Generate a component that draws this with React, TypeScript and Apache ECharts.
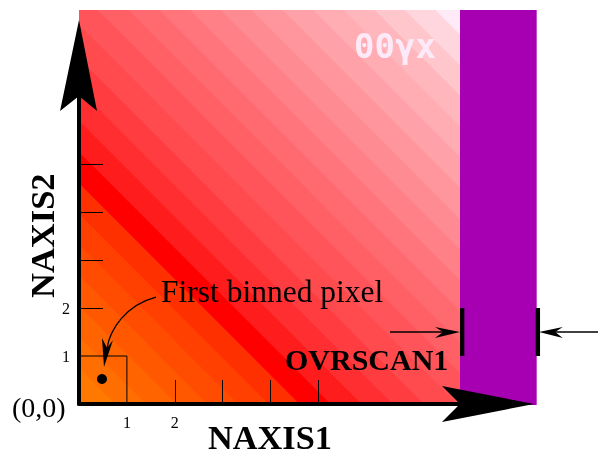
import React, { useEffect, useRef } from "react";
import * as echarts from "echarts";

// Scene extents, in pixel units of the binned image
const imageWidth = 7.954;
const imageHeight = 8.208;
const overscanEnd = 9.555;
const xMax = 9;
const yMax = 7.5;

// Diagonal colour bands: lower edge of each band (x + y) and its fill
const bandEdges = [-1, 0.12, 0.76, 1.4, 2.04, 2.68, 3.32, 3.96, 4.6, 5.25, 5.9, 6.55, 7.2, 7.9, 8.6, 9.24, 9.89, 10.53, 11.17, 11.81, 12.46, 13.1, 13.74, 14.38, 15.01, 15.65];
const bandColors = ["#ff7c00", "#ff7800", "#ff6e00", "#ff6400", "#ff5800", "#ff4c00", "#ff4000", "#ff3000", "#ff0000", "#ff1c1c", "#ff2e30", "#ff3c40", "#ff4a4e", "#ff555a", "#ff6066", "#ff6a70", "#ff757b", "#ff8087", "#ff8b92", "#ff969d", "#ffa1a8", "#ffacb3", "#ffb7bd", "#ffc6cc", "#ffd6de", "#ffebf7"];

const tickValues = [2, 3, 4, 5];
const labelValues = [1, 2];
const firstPixel = [[0.48, 0.52]];

const yArrowHead = [[0, 8], [-0.396, 6.104], [0, 6.417], [0.376, 6.104]];
const xArrowHead = [[9.5, 0], [7.578, 0.375], [7.954, 0], [7.578, -0.375]];
const pixelBox = [[0, 1], [1, 1], [1, 0]];
const curveArrowLine = [[1.608, 2.229], [0.96, 2.06], [0.647, 1.54], [0.585, 1.167]];
const curveArrowHead = [[0.522, 0.771], [0.48, 1.375], [0.585, 1.167], [0.71, 1.333]];
const overscanBars = [[[8, 1], [8, 2]], [[9.58, 1], [9.58, 2]]];
const overscanLines = [[[6.493, 1.5], [7.8, 1.5]], [[9.8, 1.5], [10.9, 1.5]]];
const overscanHeads = [
  [[7.954, 1.5], [7.432, 1.604], [7.6, 1.5], [7.432, 1.375]],
  [[9.603, 1.5], [10.1, 1.604], [9.94, 1.5], [10.1, 1.375]],
];

// Region of the image at or above a band's lower edge
const bandRegion = (edge: number): number[][] => {
  const corners = [[0, 0], [imageWidth, 0], [imageWidth, imageHeight], [0, imageHeight]];
  const f = (p: number[]) => p[0] + p[1] - edge;
  const out: number[][] = [];
  corners.forEach((p, i) => {
    const q = corners[(i + 1) % 4];
    const a = f(p);
    const b = f(q);
    if (a >= 0) out.push(p);
    if (a >= 0 !== b >= 0) {
      const t = a / (a - b);
      out.push([p[0] + (q[0] - p[0]) * t, p[1] + (q[1] - p[1]) * t]);
    }
  });
  return out;
};

const serif = "'Liberation Serif', serif";

export default function App() {
  const ref = useRef<HTMLDivElement>(null);
  useEffect(() => {
    const chart = echarts.init(ref.current!, null, { renderer: "svg" });
    const poly = (api: any, pts: number[][]) => pts.map((p) => api.coord(p));
    const overlay = (_: any, api: any) => {
      const ink = { fill: "#000", stroke: "none" };
      const c = curveArrowLine.map((p) => api.coord(p));
      const children: any[] = [
        { type: "polygon", shape: { points: poly(api, yArrowHead) }, style: ink },
        { type: "polygon", shape: { points: poly(api, xArrowHead) }, style: ink },
        { type: "polyline", shape: { points: poly(api, pixelBox) }, style: { fill: "none", stroke: "#000", lineWidth: 1 } },
        {
          type: "bezierCurve",
          shape: { x1: c[0][0], y1: c[0][1], cpx1: c[1][0], cpy1: c[1][1], cpx2: c[2][0], cpy2: c[2][1], x2: c[3][0], y2: c[3][1] },
          style: { fill: "none", stroke: "#000", lineWidth: 1.3 },
        },
        { type: "polygon", shape: { points: poly(api, curveArrowHead) }, style: ink },
      ];
      overscanBars.forEach((b) => children.push({ type: "polyline", shape: { points: poly(api, b) }, style: { fill: "none", stroke: "#000", lineWidth: 4.3 } }));
      overscanLines.forEach((b) => children.push({ type: "polyline", shape: { points: poly(api, b) }, style: { fill: "none", stroke: "#000", lineWidth: 1.6 } }));
      overscanHeads.forEach((b) => children.push({ type: "polygon", shape: { points: poly(api, b) }, style: ink }));
      return { type: "group", children };
    };
    chart.setOption({
      animation: false,
      grid: { left: 79, top: 44, width: 431.1, height: 360 },
      xAxis: {
        type: "value",
        min: 0,
        max: xMax,
        interval: 1,
        z: 3,
        splitLine: { show: false },
        axisLine: { lineStyle: { color: "#000", width: 4 } },
        axisTick: { customValues: tickValues, inside: true, length: 24, lineStyle: { color: "#000", width: 1 } },
        axisLabel: { customValues: labelValues, color: "#000", fontFamily: serif, fontSize: 16, margin: 10 },
      },
      yAxis: {
        type: "value",
        min: 0,
        max: yMax,
        interval: 1,
        z: 3,
        splitLine: { show: false },
        axisLine: { lineStyle: { color: "#000", width: 4 } },
        axisTick: { customValues: tickValues, inside: true, length: 24, lineStyle: { color: "#000", width: 1 } },
        axisLabel: { customValues: labelValues, color: "#000", fontFamily: serif, fontSize: 16, margin: 9, padding: [0, 0, 12, 0] },
      },
      series: [
        {
          type: "custom",
          z: 1,
          silent: true,
          clip: false,
          data: bandEdges.map((e, i) => [e, i]),
          renderItem: (_: any, api: any) => {
            const i = api.value(1);
            return {
              type: "polygon",
              shape: { points: bandRegion(api.value(0)).map((p) => api.coord(p)) },
              style: { fill: bandColors[i], stroke: "none" },
            };
          },
        },
        {
          type: "custom",
          z: 2,
          silent: true,
          clip: false,
          data: [[imageWidth, overscanEnd]],
          renderItem: (_: any, api: any) => ({
            type: "polygon",
            shape: {
              points: [
                api.coord([api.value(0), -0.02]),
                api.coord([api.value(1), -0.02]),
                api.coord([api.value(1), imageHeight]),
                api.coord([api.value(0), imageHeight]),
              ],
            },
            style: { fill: "#a700b3", stroke: "none" },
          }),
        },
        { type: "custom", z: 4, silent: true, clip: false, data: [[0, 0]], renderItem: overlay },
        { type: "scatter", z: 5, silent: true, data: firstPixel, symbolSize: 10, itemStyle: { color: "#000", opacity: 1 } },
      ],
      graphic: [
        { type: "text", z: 10, x: 354, y: 46, style: { text: "00γx", fill: "#fdeaf8", font: "bold 34px 'DejaVu Sans Mono', monospace", verticalAlign: "middle" } },
        { type: "text", z: 10, x: 161, y: 291, style: { text: "First binned pixel", fill: "#000", font: `31.5px ${serif}`, verticalAlign: "middle" } },
        { type: "text", z: 10, x: 285, y: 359, style: { text: "OVRSCAN1", fill: "#000", font: `bold 30px ${serif}`, verticalAlign: "middle" } },
        { type: "text", z: 10, x: 12, y: 407, style: { text: "(0,0)", fill: "#000", font: `28px ${serif}`, verticalAlign: "middle" } },
        { type: "text", z: 10, x: 208, y: 438, scaleX: 1.04, style: { text: "NAXIS1", fill: "#000", font: `bold 33px ${serif}`, verticalAlign: "middle" } },
        { type: "text", z: 10, x: 42, y: 298, rotation: Math.PI / 2, style: { text: "NAXIS2", fill: "#000", font: `bold 34.5px ${serif}`, verticalAlign: "middle" } },
      ],
    });
    return () => chart.dispose();
  }, []);
  return <div ref={ref} style={{ position: "fixed", left: 0, top: 0, width: 598, height: 455 }} />;
}
